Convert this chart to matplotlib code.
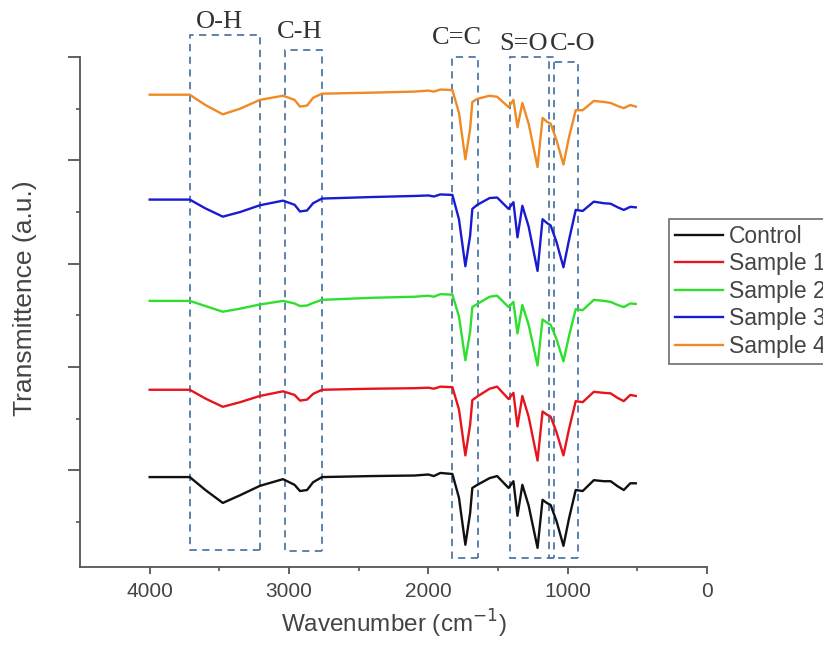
import matplotlib.pyplot as plt
from matplotlib.patches import Rectangle

# wavenumbers (cm-1), high to low
wavenumber = [4000, 3712, 3600, 3475, 3350, 3209, 3043, 2960, 2921, 2870, 2827, 2763,
              2400, 2100, 2000, 1960, 1914, 1827, 1780, 1734, 1700, 1684, 1648, 1560,
              1506, 1424, 1389, 1360, 1325, 1280, 1216, 1180, 1150, 1122, 1080, 1030,
              990, 942, 892, 812, 740, 691, 640, 597, 550, 511]

control = [0, 0, -0.25, -0.50, -0.35, -0.17, -0.04, -0.15, -0.27, -0.25, -0.10, 0.0,
           0.02, 0.03, 0.05, 0.02, 0.08, 0.06, -0.40, -1.31, -0.70, -0.21, -0.15, -0.02,
           0.02, -0.21, -0.08, -0.75, -0.15, -0.55, -1.37, -0.44, -0.50, -0.54, -0.85, -1.33,
           -0.80, -0.25, -0.27, -0.06, -0.08, -0.08, -0.18, -0.25, -0.12, -0.12]
sample1 = [0, 0, -0.17, -0.33, -0.24, -0.12, -0.03, -0.10, -0.21, -0.19, -0.08, 0.0,
           0.02, 0.03, 0.04, 0.02, 0.06, 0.05, -0.38, -1.27, -0.68, -0.20, -0.13, 0.02,
           0.06, -0.18, -0.06, -0.71, -0.12, -0.52, -1.37, -0.42, -0.48, -0.52, -0.82, -1.27,
           -0.76, -0.22, -0.24, -0.04, -0.06, -0.07, -0.16, -0.22, -0.10, -0.12]
sample2 = [0, 0, -0.10, -0.21, -0.15, -0.07, 0.0, -0.05, -0.10, -0.09, -0.04, 0.02,
           0.06, 0.08, 0.10, 0.08, 0.13, 0.12, -0.30, -1.15, -0.60, -0.12, -0.06, 0.08,
           0.10, -0.12, -0.02, -0.63, -0.08, -0.46, -1.25, -0.36, -0.42, -0.46, -0.74, -1.17,
           -0.68, -0.16, -0.18, 0.02, 0.0, -0.02, -0.08, -0.12, -0.05, -0.06]
sample3 = [0, 0, -0.17, -0.33, -0.24, -0.11, -0.02, -0.10, -0.23, -0.21, -0.07, 0.02,
           0.05, 0.07, 0.08, 0.06, 0.10, 0.09, -0.38, -1.29, -0.70, -0.18, -0.10, 0.03,
           0.04, -0.18, -0.05, -0.73, -0.12, -0.52, -1.38, -0.38, -0.45, -0.50, -0.82, -1.31,
           -0.78, -0.20, -0.22, -0.04, -0.07, -0.08, -0.15, -0.20, -0.14, -0.15]
sample4 = [0, 0, -0.20, -0.38, -0.27, -0.10, -0.02, -0.10, -0.23, -0.21, -0.06, 0.02,
           0.04, 0.06, 0.08, 0.06, 0.10, 0.09, -0.35, -1.25, -0.66, -0.14, -0.08, -0.02,
           -0.04, -0.24, -0.10, -0.63, -0.16, -0.56, -1.40, -0.45, -0.52, -0.56, -0.88, -1.35,
           -0.82, -0.30, -0.30, -0.12, -0.14, -0.16, -0.22, -0.26, -0.20, -0.23]

names = ['Control', 'Sample 1', 'Sample 2', 'Sample 3', 'Sample 4']
series = [control, sample1, sample2, sample3, sample4]
offsets = [-0.13, 1.56, 3.28, 5.24, 7.27]
colors = ['#111111', '#e8141c', '#2ee02e', '#1a1ad0', '#f08a24']

# band boxes: label, high wn, low wn, top, bottom
bands = ['O-H', 'C-H', 'C=C', 'S=O', 'C-O']
band_hi = [3712, 3029, 1827, 1417, 1137]
band_lo = [3209, 2763, 1640, 1100, 928]
band_top = [8.42, 8.13, 8.0, 8.0, 7.9]
band_bottom = [-1.54, -1.56, -1.69, -1.69, -1.69]
label_x = [3496, 2921, 1791, 1317, 964]
label_y = [8.67, 8.48, 8.37, 8.25, 8.25]

fig = plt.figure(figsize=(8.23, 6.46), dpi=100)
ax = fig.add_axes([0.0972, 0.1223, 0.7618, 0.7895])

for vals, off, c, n in zip(series, offsets, colors, names):
    ax.plot(wavenumber, [v + off for v in vals], color=c, lw=1.7, label=n)

box_color = '#4f7aa8'
for lab, hi, lo, top, bot, lx, ly in zip(bands, band_hi, band_lo, band_top, band_bottom, label_x, label_y):
    ax.add_patch(Rectangle((lo, bot), hi - lo, top - bot, fill=False, ec=box_color,
                           ls=(0, (4, 3)), lw=1.3, clip_on=False))
    ax.text(lx, ly, lab, ha='center', va='center', family='Liberation Serif',
            fontsize=19, color='#333333', clip_on=False)

ax.set_xlim(4500, 0)
ax.set_ylim(-1.87, 8)
ax.set_xticks([4000, 3000, 2000, 1000, 0])
ax.set_xticks([3500, 2500, 1500, 500], minor=True)
ax.set_yticks([0, 2, 4, 6, 8])
ax.set_yticks([-1, 1, 3, 5, 7], minor=True)
ax.set_yticklabels([])
for s in ['top', 'right']:
    ax.spines[s].set_visible(False)
for s in ['left', 'bottom']:
    ax.spines[s].set_color('#555555')
    ax.spines[s].set_linewidth(1.3)
ax.tick_params(axis='x', which='major', length=5, width=1.3, color='#555555',
               labelsize=15, labelcolor='#444444', pad=6)
ax.tick_params(axis='x', which='minor', length=3, width=1.2, color='#555555')
ax.tick_params(axis='y', which='major', length=9, width=1.3, color='#555555')
ax.tick_params(axis='y', which='minor', length=3, width=1.2, color='#555555')
for lbl in ax.get_xticklabels():
    lbl.set_family('Liberation Sans')

ax.set_xlabel('Wavenumber (cm$^{-1}$)', family='Liberation Sans', fontsize=17.5,
              color='#444444', labelpad=5)
ax.set_ylabel('Transmittence (a.u.)', family='Liberation Sans', fontsize=19,
              color='#444444')
ax.yaxis.set_label_coords(-0.069, 0.527)

# legend sits partly past the right edge, as in the reference
leg = ax.legend(loc='upper left', bbox_to_anchor=(0.813, 0.661), bbox_transform=fig.transFigure,
                fancybox=False, edgecolor='#555555', borderaxespad=0, borderpad=0.25,
                handlelength=2.1, handletextpad=0.26, labelspacing=0.2,
                prop={'family': 'Liberation Sans', 'size': 16.5})
leg.get_frame().set_linewidth(1.3)
for t in leg.get_texts():
    t.set_color('#444444')

fig.savefig('out.png', dpi=100)
